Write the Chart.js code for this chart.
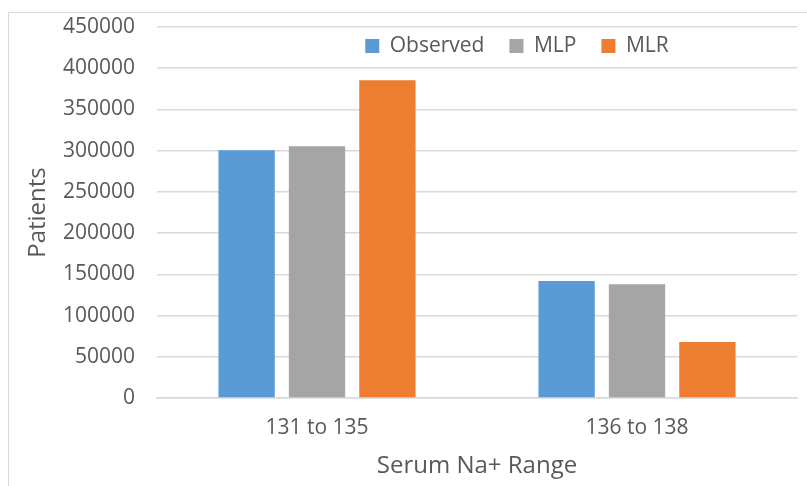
<!DOCTYPE html>
<html>
<head>
<meta charset="utf-8">
<script src="https://cdn.jsdelivr.net/npm/chart.js@4.4.1/dist/chart.umd.min.js"></script>
<style>
  html, body { margin: 0; padding: 0; background: #fff; }
  #frame { position: absolute; left: 8px; top: 12px; width: 900px; height: 600px; border: 1px solid #d9d9d9; }
  #wrap { position: absolute; left: 0; top: 0; width: 807px; height: 486px; }
</style>
</head>
<body>
<div id="frame"></div>
<div id="wrap"><canvas id="chart1" width="807" height="486"></canvas></div>
<script>
var categories = ['131 to 135', '136 to 138'];
var observed = [300500, 142000];
var mlp = [305500, 138000];
var mlr = [385500, 68000];
var yTicks = [0, 50000, 100000, 150000, 200000, 250000, 300000, 350000, 400000, 450000];

var textColor = '#595959';
var gridColor = '#d9d9d9';
var fontFamily = '"Open Sans", "Noto Sans", sans-serif';

// legend sits inside the plot, between the 450000 and 400000 lines
var legendShift = {
  id: 'legendShift',
  afterLayout: function(chart) {
    var l = chart.legend;
    if (!l) return;
    l.left = 150; l.right = 884;
    l.top = 10.5; l.bottom = 67.5;
  }
};

var ctx = document.getElementById('chart1').getContext('2d');

var myChart = new Chart(ctx, {
  type: 'bar',
  data: {
    labels: categories,
    datasets: [{
      label: 'Observed',
      data: observed,
      backgroundColor: '#5b9bd5',
      borderWidth: 0
    }, {
      label: 'MLP',
      data: mlp,
      backgroundColor: '#a5a5a5',
      borderWidth: 0
    }, {
      label: 'MLR',
      data: mlr,
      backgroundColor: '#ed7d31',
      borderWidth: 0
    }]
  },
  plugins: [legendShift],
  options: {
    responsive: false,
    animation: false,
    barPercentage: 0.8,
    categoryPercentage: 0.66,
    layout: {
      padding: { left: 0, right: 10, top: 26, bottom: 0 }
    },
    plugins: {
      tooltip: { enabled: false },
      legend: {
        position: 'top',
        align: 'center',
        maxHeight: 1,
        labels: {
          boxWidth: 14,
          boxHeight: 14,
          padding: 25,
          color: textColor,
          font: { family: fontFamily, size: 21 }
        }
      }
    },
    scales: {
      x: {
        grid: { display: false, drawTicks: false },
        border: { display: true, color: gridColor, width: 1.5 },
        ticks: {
          color: textColor,
          padding: 17,
          font: { family: fontFamily, size: 21 }
        },
        title: {
          display: true,
          text: 'Serum Na+ Range',
          color: textColor,
          padding: { top: 0, bottom: 5 },
          font: { family: fontFamily, size: 24 }
        },
        afterFit: function(s) { s.height = 88; }
      },
      y: {
        min: 0,
        max: 450000,
        afterBuildTicks: function(s) {
          s.ticks = yTicks.map(function(v) { return { value: v }; });
        },
        grid: {
          color: gridColor,
          lineWidth: 1.5,
          drawTicks: false
        },
        border: { display: false },
        ticks: {
          color: textColor,
          padding: 22,
          font: { family: fontFamily, size: 21 },
          callback: function(v) { return String(v); }
        },
        title: {
          display: true,
          text: 'Patients',
          color: textColor,
          padding: { top: 24, bottom: 0 },
          font: { family: fontFamily, size: 24 }
        },
        afterFit: function(s) {
          s.width = 157;
          s.paddingTop = 0;
          s.paddingBottom = 0;
        }
      }
    }
  }
});
</script>
</body>
</html>
